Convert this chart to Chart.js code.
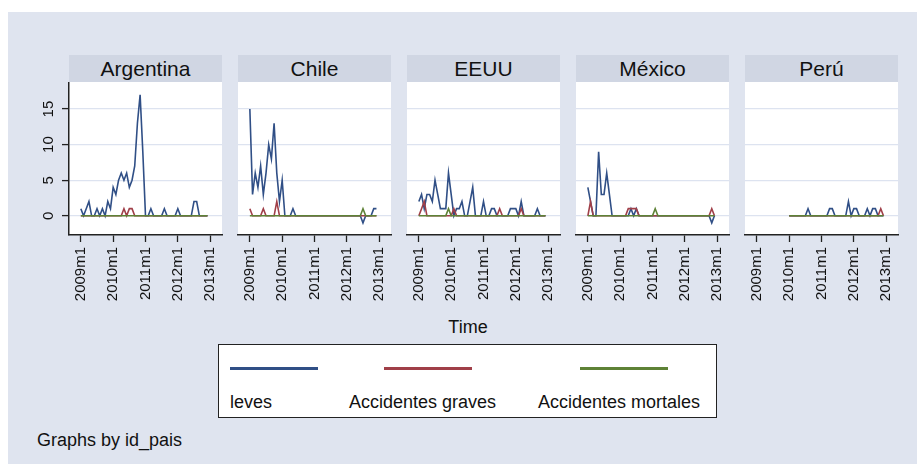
<!DOCTYPE html>
<html>
<head>
<meta charset="utf-8">
<script src="https://cdn.jsdelivr.net/npm/chart.js@4.4.1/dist/chart.umd.min.js"></script>
<style>
  body { margin: 0; background: #fff; font-family: "Liberation Sans", Arial, sans-serif; color: #111; }
  #bg { position: absolute; left: 8px; top: 12px; width: 909px; height: 452px; background: #dfe4ef; }
  .strip { position: absolute; top: 55px; width: 153px; height: 27px; line-height: 27px; background: #d0d6e3; text-align: center; font-size: 21px; }
  canvas { position: absolute; top: 82px; }
  #time { position: absolute; left: 368px; width: 200px; top: 318px; text-align: center; font-size: 18px; line-height: 18px; }
  #legend { position: absolute; left: 218px; top: 344px; width: 497px; height: 72px; background: #fff; border: 1.5px solid #222; }
  .key { position: absolute; height: 3px; width: 88px; top: 22px; }
  .lab { position: absolute; top: 48px; font-size: 18px; line-height: 18px; white-space: nowrap; }
  #by { position: absolute; left: 37px; top: 431px; font-size: 18px; line-height: 18px; }
</style>
</head>
<body>
<div id="bg"></div>
<div id="time">Time</div>
<div id="legend"></div>
<div id="by">Graphs by id_pais</div>
<script>
'use strict';
// panels and series
let countries = ['Argentina', 'Chile', 'EEUU', 'México', 'Perú'];
let seriesNames = ['leves', 'Accidentes graves', 'Accidentes mortales'];
let xTickValues = [0, 12, 24, 36, 48];
let xTickLabels = ['2009m1', '2010m1', '2011m1', '2012m1', '2013m1'];
let yTickValues = [0, 5, 10, 15];

// monthly values 2009m1 .. 2012m12 (one row per year)
let argLeves = [1, 0, 1, 2, 0, 0, 1, 0, 1, 0, 2, 1,
  4, 3, 5, 6, 5, 6, 4, 5, 7, 13, 17, 9,
  0, 0, 1, 0, 0, 0, 0, 1, 0, 0, 0, 0,
  1, 0, 0, 0, 0, 0, 2, 2, 0, 0, 0, 0];
let argGraves = [0, 0, 0, 0, 0, 0, 0, 0, 0, 0, 0, 0,
  0, 0, 0, 0, 1, 0, 1, 1, 0, 0, 0, 0,
  0, 0, 0, 0, 0, 0, 0, 0, 0, 0, 0, 0,
  0, 0, 0, 0, 0, 0, 0, 0, 0, 0, 0, 0];
let argMortales = [0, 0, 0, 0, 0, 0, 0, 0, 0, 0, 0, 0,
  0, 0, 0, 0, 0, 0, 0, 0, 0, 0, 0, 0,
  0, 0, 0, 0, 0, 0, 0, 0, 0, 0, 0, 0,
  0, 0, 0, 0, 0, 0, 0, 0, 0, 0, 0, 0];

let chiLeves = [15, 3, 6, 4, 7, 3, 6, 10, 8, 13, 6, 2,
  5, 0, 0, 0, 1, 0, 0, 0, 0, 0, 0, 0,
  0, 0, 0, 0, 0, 0, 0, 0, 0, 0, 0, 0,
  0, 0, 0, 0, 0, 0, -1, 0, 0, 0, 1, 1];
let chiGraves = [1, 0, 0, 0, 0, 1, 0, 0, 0, 0, 2, 0,
  0, 0, 0, 0, 0, 0, 0, 0, 0, 0, 0, 0,
  0, 0, 0, 0, 0, 0, 0, 0, 0, 0, 0, 0,
  0, 0, 0, 0, 0, 0, 0, 0, 0, 0, 0, 0];
let chiMortales = [0, 0, 0, 0, 0, 0, 0, 0, 0, 0, 0, 0,
  0, 0, 0, 0, 0, 0, 0, 0, 0, 0, 0, 0,
  0, 0, 0, 0, 0, 0, 0, 0, 0, 0, 0, 0,
  0, 0, 0, 0, 0, 0, 1, 0, 0, 0, 0, 0];

let usaLeves = [2, 3, 1, 3, 3, 2, 5, 3, 1, 1, 1, 6,
  3, 0, 1, 1, 2, 0, 0, 2, 4, 0, 0, 0,
  2, 0, 0, 1, 1, 0, 0, 0, 0, 0, 1, 1,
  1, 0, 2, 0, 0, 0, 0, 0, 1, 0, 0, 0];
let usaGraves = [0, 1, 2, 0, 0, 0, 0, 0, 0, 0, 0, 0,
  0, 1, 0, 0, 0, 0, 0, 0, 0, 0, 0, 0,
  0, 0, 0, 0, 0, 0, 1, 0, 0, 0, 0, 0,
  0, 0, 1, 0, 0, 0, 0, 0, 0, 0, 0, 0];
let usaMortales = [0, 0, 0, 0, 0, 0, 0, 0, 0, 0, 0, 1,
  0, 0, 0, 0, 0, 0, 0, 0, 0, 0, 0, 0,
  0, 0, 0, 0, 0, 0, 0, 0, 0, 0, 0, 0,
  0, 0, 0, 0, 0, 0, 0, 0, 0, 0, 0, 0];

let mexLeves = [4, 2, 0, 0, 9, 3, 3, 6, 3, 0, 0, 0,
  0, 0, 0, 0, 1, 0, 1, 0, 0, 0, 0, 0,
  0, 0, 0, 0, 0, 0, 0, 0, 0, 0, 0, 0,
  0, 0, 0, 0, 0, 0, 0, 0, 0, 0, -1, 0];
let mexGraves = [0, 2, 0, 0, 0, 0, 0, 0, 0, 0, 0, 0,
  0, 0, 0, 1, 1, 1, 1, 0, 0, 0, 0, 0,
  0, 0, 0, 0, 0, 0, 0, 0, 0, 0, 0, 0,
  0, 0, 0, 0, 0, 0, 0, 0, 0, 0, 1, 0];
let mexMortales = [0, 0, 0, 0, 0, 0, 0, 0, 0, 0, 0, 0,
  0, 0, 0, 0, 0, 0, 0, 0, 0, 0, 0, 0,
  0, 1, 0, 0, 0, 0, 0, 0, 0, 0, 0, 0,
  0, 0, 0, 0, 0, 0, 0, 0, 0, 0, 0, 0];

let perLeves = [null, null, null, null, null, null, null, null, null, null, null, null,
  0, 0, 0, 0, 0, 0, 0, 1, 0, 0, 0, 0,
  0, 0, 0, 1, 1, 0, 0, 0, 0, 0, 2, 0,
  1, 1, 0, 0, 0, 1, 0, 1, 1, 0, 0, 0];
let perGraves = [null, null, null, null, null, null, null, null, null, null, null, null,
  0, 0, 0, 0, 0, 0, 0, 0, 0, 0, 0, 0,
  0, 0, 0, 0, 0, 0, 0, 0, 0, 0, 0, 0,
  0, 0, 0, 0, 0, 0, 0, 0, 0, 0, 1, 0];
let perMortales = [null, null, null, null, null, null, null, null, null, null, null, null,
  0, 0, 0, 0, 0, 0, 0, 0, 0, 0, 0, 0,
  0, 0, 0, 0, 0, 0, 0, 0, 0, 0, 0, 0,
  0, 0, 0, 0, 0, 0, 0, 0, 0, 0, 0, 0];

let panelData = [
  [argLeves, argGraves, argMortales],
  [chiLeves, chiGraves, chiMortales],
  [usaLeves, usaGraves, usaMortales],
  [mexLeves, mexGraves, mexMortales],
  [perLeves, perGraves, perMortales]
];

let colors = ['#304f86', '#a03f48', '#5e8236'];
let font = '"Liberation Sans", Arial, sans-serif';
let plotLeft = [69, 238, 407, 576, 745];

// x value = months since 2009m1
function toPoints(arr) {
  let pts = [];
  for (let i = 0; i < arr.length; i++) {
    pts.push({ x: i, y: arr[i] });
  }
  return pts;
}

let whiteArea = {
  id: 'whiteArea',
  beforeDraw(chart) {
    let a = chart.chartArea;
    chart.ctx.save();
    chart.ctx.fillStyle = '#fff';
    chart.ctx.fillRect(a.left, a.top, a.right - a.left, a.bottom - a.top);
    chart.ctx.restore();
  }
};

// stata style: y labels turned on their side
let yLabels = {
  id: 'yLabels',
  afterDraw(chart) {
    let ctx = chart.ctx;
    let ys = chart.scales.y;
    ctx.save();
    ctx.fillStyle = '#111';
    ctx.font = '15px ' + font;
    ctx.textAlign = 'center';
    ctx.textBaseline = 'middle';
    for (let v of yTickValues) {
      ctx.save();
      ctx.translate(48.5, ys.getPixelForValue(v));
      ctx.rotate(-Math.PI / 2);
      ctx.fillText(String(v), 0, 0);
      ctx.restore();
    }
    ctx.restore();
  }
};

function makePanel(i) {
  let strip = document.createElement('div');
  strip.className = 'strip';
  strip.style.left = plotLeft[i] + 'px';
  strip.textContent = countries[i];
  document.body.appendChild(strip);

  let cv = document.createElement('canvas');
  cv.width = 230;
  cv.height = 230;
  cv.style.left = (plotLeft[i] - 69) + 'px';
  document.body.appendChild(cv);

  let first = i === 0;
  let datasets = [];
  for (let s = 0; s < 3; s++) {
    datasets.push({
      label: seriesNames[s],
      data: toPoints(panelData[i][s]),
      borderColor: colors[s],
      borderWidth: 1.6,
      pointRadius: 0,
      tension: 0,
      order: 2 - s
    });
  }

  new Chart(cv.getContext('2d'), {
    type: 'line',
    data: { datasets: datasets },
    options: {
      responsive: false,
      animation: false,
      devicePixelRatio: 1,
      layout: { padding: { left: 0, right: 8, top: 0, bottom: 0 } },
      plugins: { legend: { display: false }, tooltip: { enabled: false } },
      scales: {
        x: {
          type: 'linear',
          min: -4.4,
          max: 52.4,
          afterBuildTicks: function (s) { s.ticks = xTickValues.map(v => ({ value: v })); },
          afterFit: function (s) { s.height = 77; s.paddingLeft = 0; s.paddingRight = 0; },
          ticks: {
            autoSkip: false,
            minRotation: 90,
            maxRotation: 90,
            padding: 5,
            color: '#111',
            font: { size: 15, family: font },
            callback: function (v, idx) { return xTickLabels[idx]; }
          },
          grid: { drawOnChartArea: false, drawTicks: true, tickLength: 7, tickColor: '#222', tickWidth: 1.3 },
          border: { display: true, color: '#222', width: 1.5 }
        },
        y: {
          min: -2.7,
          max: 18.8,
          afterBuildTicks: function (s) { s.ticks = yTickValues.map(v => ({ value: v })); },
          afterFit: function (s) { s.width = 69; s.paddingTop = 0; s.paddingBottom = 0; },
          ticks: { display: false },
          grid: { color: '#dde3f0', lineWidth: 1.2, drawTicks: first, tickLength: 7, tickColor: '#222', tickWidth: 1.3 },
          border: { display: first, color: '#222', width: 1.5 }
        }
      }
    },
    plugins: first ? [whiteArea, yLabels] : [whiteArea]
  });
}

for (let i = 0; i < countries.length; i++) {
  makePanel(i);
}

// legend box
let keyLeft = [11, 165, 361];
let labLeft = [11, 130, 319];
let legendEl = document.getElementById('legend');
for (let s = 0; s < seriesNames.length; s++) {
  let k = document.createElement('div');
  k.className = 'key';
  k.style.left = keyLeft[s] + 'px';
  k.style.background = colors[s];
  legendEl.appendChild(k);
  let l = document.createElement('div');
  l.className = 'lab';
  l.style.left = labLeft[s] + 'px';
  l.textContent = seriesNames[s];
  legendEl.appendChild(l);
}
</script>
</body>
</html>
